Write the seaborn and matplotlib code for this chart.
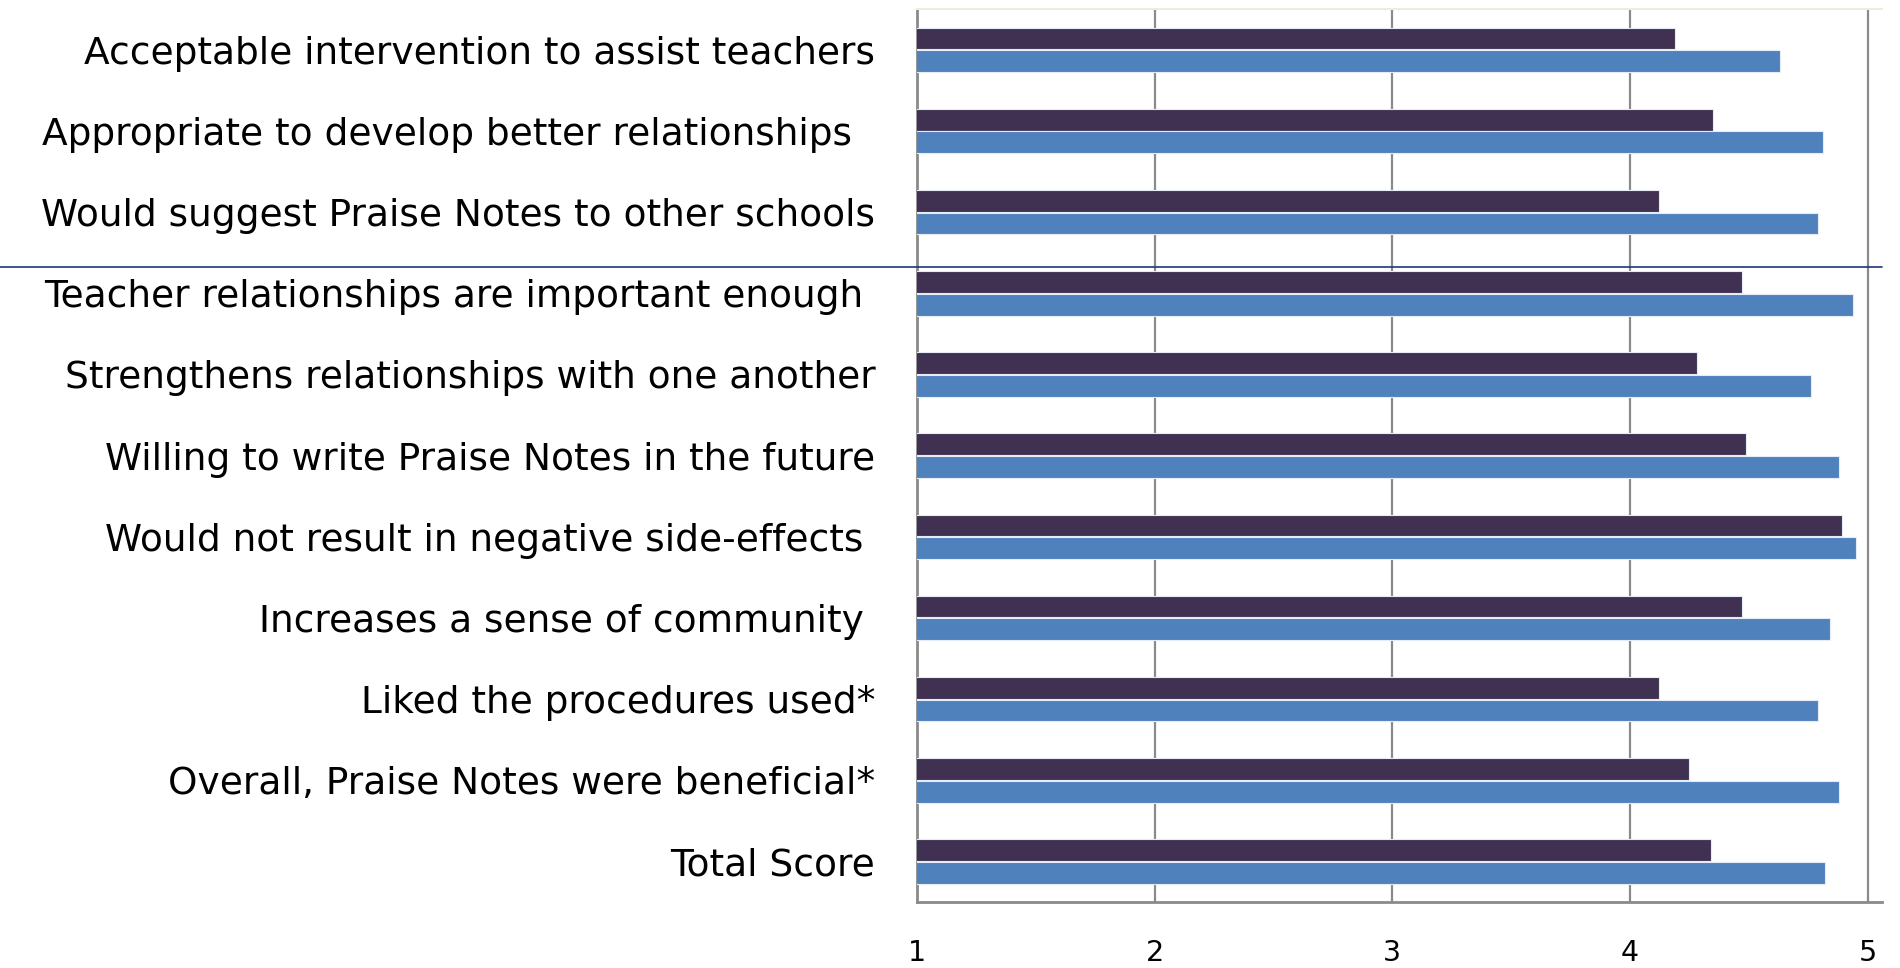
import matplotlib
matplotlib.use("Agg")
import matplotlib.pyplot as plt
import matplotlib.transforms as mtransforms
import numpy as np
import pandas as pd
import seaborn as sns

# --------------------------------------------------
# Daten
# --------------------------------------------------
items = [
    "Acceptable intervention to assist teachers",
    "Appropriate to develop better relationships  ",
    "Would suggest Praise Notes to other schools",
    "Teacher relationships are important enough ",
    "Strengthens relationships with one another",
    "Willing to write Praise Notes in the future",
    "Would not result in negative side-effects ",
    "Increases a sense of community ",
    "Liked the procedures used*",
    "Overall, Praise Notes were beneficial*",
    "Total Score",
]
series_names = ["Series 1", "Series 2"]
series_1 = [4.19, 4.35, 4.12, 4.47, 4.28, 4.49, 4.89, 4.47, 4.12, 4.25, 4.34]
series_2 = [4.63, 4.81, 4.79, 4.94, 4.76, 4.88, 4.95, 4.84, 4.79, 4.88, 4.82]
x_ticks = [1, 2, 3, 4, 5]
n_top_group = 3  # items above the separator line

bar_colors = ["#403152", "#4F81BD"]
grid_color = "#8A8A8A"

df = pd.DataFrame({
    "item": items * 2,
    "score": series_1 + series_2,
    "series": [series_names[0]] * len(items) + [series_names[1]] * len(items),
})

# --------------------------------------------------
# Plot
# --------------------------------------------------
sns.set_theme(style="white")
plt.rcParams["font.family"] = ["DejaVu Sans"]

fig = plt.figure(figsize=(19, 9.68), dpi=100)
ax = fig.add_axes([0.4826, 0.0682, 0.9905 - 0.4826, 0.9904 - 0.0682])

sns.barplot(data=df, y="item", x="score", hue="series", orient="h",
            palette=bar_colors, saturation=1, width=0.56, gap=0.04,
            errorbar=None, legend=False, edgecolor="#E6ECF5", linewidth=0.8,
            ax=ax, zorder=3)

ax.set_xlim(1, 5.06)
ax.set_ylim(len(items) - 0.5, -0.5)
ax.set_xticks(x_ticks)
ax.set_xticklabels([str(t) for t in x_ticks])
ax.set_xlabel("")
ax.set_ylabel("")

# Gitterlinien
ax.grid(False)
for t in x_ticks[1:]:
    ax.axvline(t, color=grid_color, lw=1.6, zorder=1)

# Achsen
for side in ["left", "bottom"]:
    ax.spines[side].set_color(grid_color)
    ax.spines[side].set_linewidth(2.0)
ax.spines["top"].set_color("#EEECE1")
ax.spines["top"].set_linewidth(1.5)
ax.spines["right"].set_visible(False)

ax.tick_params(axis="x", which="major", direction="out", length=7, width=1.6,
               color=grid_color, pad=20, labelsize=20.5, labelcolor="black")
ax.tick_params(axis="y", which="major", length=0, pad=30)
ax.set_yticks(np.arange(-0.5, len(items), 1.0), minor=True)
ax.tick_params(axis="y", which="minor", direction="out", length=12, width=1.6,
               color=grid_color)
for lbl in ax.get_yticklabels():
    lbl.set_fontfamily(["DejaVu Sans"])
    lbl.set_fontsize(27)
    lbl.set_color("black")

# Trennlinie zwischen den Gruppen
sep_y = n_top_group - 0.5 + 0.18
trans = mtransforms.blended_transform_factory(fig.transFigure, ax.transData)
ax.plot([0, 0.9905], [sep_y, sep_y], color="#22337A", lw=1.2,
        transform=trans, clip_on=False, zorder=5)

fig.savefig("out.png", dpi=100)
plt.close(fig)
